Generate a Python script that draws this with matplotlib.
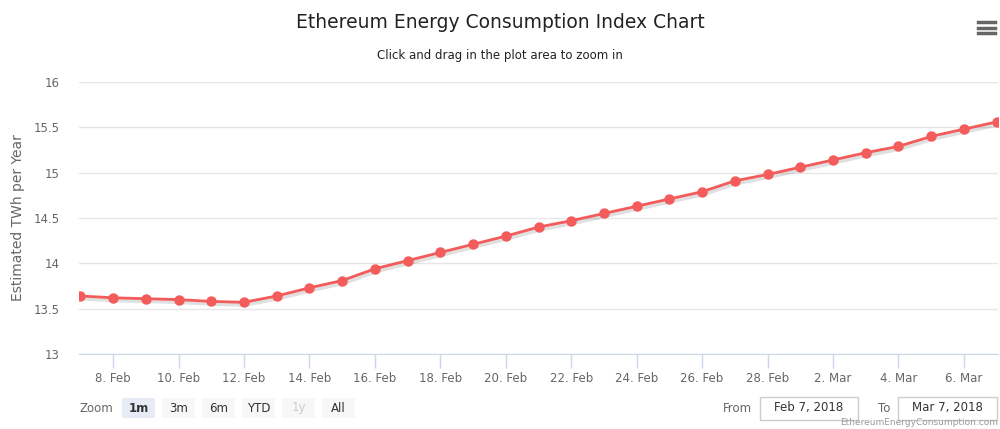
import numpy as np
import matplotlib
matplotlib.use("Agg")
import matplotlib.pyplot as plt
import matplotlib.patheffects as pe
from matplotlib.patches import FancyBboxPatch, Rectangle

plt.rcParams['font.family'] = ['DejaVu Sans']

dates = np.arange(np.datetime64('2018-02-07'), np.datetime64('2018-03-08'))
twh = [13.64, 13.62, 13.61, 13.60, 13.58, 13.57, 13.64, 13.73, 13.81, 13.94,
       14.03, 14.12, 14.21, 14.30, 14.40, 14.47, 14.55, 14.63, 14.71, 14.79,
       14.91, 14.98, 15.06, 15.14, 15.22, 15.29, 15.40, 15.48, 15.56]
yticks = [13, 13.5, 14, 14.5, 15, 15.5, 16]
ytick_labels = ['13', '13.5', '14', '14.5', '15', '15.5', '16']
xticks = np.arange(np.datetime64('2018-02-08'), np.datetime64('2018-03-08'), 2)
buttons = ['1m', '3m', '6m', 'YTD', '1y', 'All']

W, H = 1000, 429
fig = plt.figure(figsize=(W / 100, H / 100), dpi=100)
ax = fig.add_axes([79 / W, 1 - 354 / H, 919 / W, 272 / H])

red = '#f45b5b'
# line with a soft shadow, markers on top
ax.plot(dates, twh, color=red, lw=2, zorder=3,
        path_effects=[pe.SimpleLineShadow(offset=(1, -1.5), shadow_color='#000000', alpha=0.12, linewidth=3.5),
                      pe.Normal()])
ax.plot(dates, twh, ls='none', marker='o', ms=6.5, color=red, zorder=4)

ax.set_ylim(13, 16)
ax.set_xlim(dates[0] - np.timedelta64(1, 'h'), dates[-1] + np.timedelta64(1, 'h'))
ax.set_yticks(yticks)
ax.set_yticklabels(ytick_labels)
ax.set_xticks(xticks)
ax.set_xticklabels([f"{d.astype(object).day}. {d.astype(object):%b}" for d in xticks])
ax.grid(axis='y', color='#e6e6e6', lw=1)
ax.set_axisbelow(True)
for s in ['top', 'right', 'left']:
    ax.spines[s].set_visible(False)
ax.spines['bottom'].set_color('#ccd6eb')
ax.tick_params(axis='y', length=0, pad=14, labelsize=8.5, labelcolor='#666666')
ax.tick_params(axis='x', length=10, width=1, color='#ccd6eb', pad=3, labelsize=8.5, labelcolor='#666666')
ax.set_ylabel('Estimated TWh per Year', color='#666666', fontsize=10)
ax.yaxis.set_label_coords(-54 / 919, 0.5)

fig.text(0.5, 1 - 22 / H, 'Ethereum Energy Consumption Index Chart', ha='center', va='center',
         fontsize=13.5, color='#222222')
fig.text(0.5, 1 - 56 / H, 'Click and drag in the plot area to zoom in', ha='center', va='center',
         fontsize=8.5, color='#222222')

# menu icon
for yy in [22, 27.5, 33]:
    fig.add_artist(plt.Line2D([978 / W, 995 / W], [1 - yy / H] * 2, color='#666666', lw=2.5))

# range selector
fig.text(80 / W, 1 - 408 / H, 'Zoom', ha='left', va='center', fontsize=8.5, color='#666666')
for i, b in enumerate(buttons):
    x0 = 122 + i * 40
    fc = '#e6ebf5' if i == 0 else '#f7f7f7'
    fig.add_artist(FancyBboxPatch((x0 / W, 1 - 418 / H), 33 / W, 20 / H,
                                  boxstyle='round,pad=0,rounding_size=0.002', fc=fc, ec='none'))
    tc = '#cccccc' if b == '1y' else '#333333'
    fig.text((x0 + 16.5) / W, 1 - 408 / H, b, ha='center', va='center', fontsize=8.5, color=tc,
             fontweight='bold' if i == 0 else 'normal')

fig.text(752 / W, 1 - 408 / H, 'From', ha='right', va='center', fontsize=8.5, color='#666666')
fig.add_artist(Rectangle((760 / W, 1 - 420 / H), 98 / W, 23 / H, fc='white', ec='#cccccc', lw=1))
fig.text(809 / W, 1 - 408 / H, 'Feb 7, 2018', ha='center', va='center', fontsize=8.5, color='#333333')
fig.text(890 / W, 1 - 408 / H, 'To', ha='right', va='center', fontsize=8.5, color='#666666')
fig.add_artist(Rectangle((898 / W, 1 - 420 / H), 99 / W, 23 / H, fc='white', ec='#cccccc', lw=1))
fig.text(947 / W, 1 - 408 / H, 'Mar 7, 2018', ha='center', va='center', fontsize=8.5, color='#333333')
fig.text(998 / W, 1 - 427 / H, 'EthereumEnergyConsumption.com', ha='right', va='bottom',
         fontsize=6.5, color='#999999')

fig.savefig('out.png', dpi=100)
